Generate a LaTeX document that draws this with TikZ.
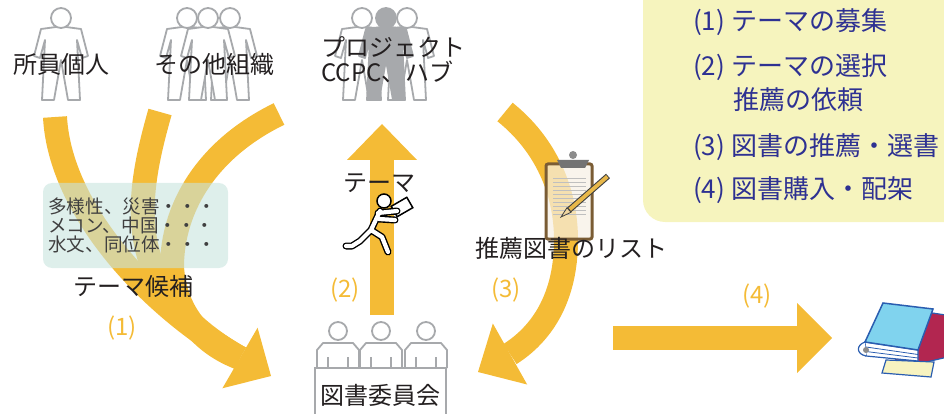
\documentclass[tikz,border=0pt]{standalone}
\usepackage{fontspec}
\setmainfont{Noto Sans CJK JP}
\usetikzlibrary{calc}

\definecolor{bandc}{RGB}{244,187,54}
\definecolor{figgray}{RGB}{167,169,172}
\definecolor{navy}{RGB}{46,49,146}
\definecolor{legendbg}{RGB}{246,244,190}
\definecolor{mint}{RGB}{200,228,222}
\definecolor{ink}{RGB}{35,31,32}
\definecolor{cbbrown}{RGB}{122,92,52}
\definecolor{cbpaper}{RGB}{246,240,228}
\definecolor{pencilc}{RGB}{232,184,74}
\definecolor{woodc}{RGB}{240,214,160}
\definecolor{bookblue}{RGB}{42,93,176}
\definecolor{bookcyan}{RGB}{128,211,238}
\definecolor{bookred}{RGB}{178,38,80}
\definecolor{bookyellow}{RGB}{247,243,192}

% arrow head from base point #1 to tip #2
\newcommand{\bighead}[2]{\fill[bandc] ($(#1)!35pt!90:(#2)$) -- (#2) -- ($(#1)!35pt!-90:(#2)$) -- cycle;}

% standing figure, head centre at (#1,#2)
\newcommand{\staff}[3]{%
  \begin{scope}[shift={(#1,#2)}]
    \filldraw[figgray, line width=1.8pt, fill=#3, line join=round]
      (-5,9) -- (-20,11) -- (-27,38) -- (-21,40) -- (-16,22) -- (-19,82) -- (-7,82)
      -- (0,42) -- (7,82) -- (19,82) -- (16,22) -- (21,40) -- (27,38) -- (20,11) -- (5,9) -- cycle;
    \filldraw[figgray, line width=1.8pt, fill=#3] (0,0) circle (10pt);
  \end{scope}}

% seated member behind the table
\newcommand{\member}[1]{%
  \begin{scope}[shift={(#1,331)}]
    \draw[figgray, line width=1.8pt, fill=white, line join=round]
      (-21,37) -- (-21,19) -- (-15,12) -- (15,12) -- (21,19) -- (21,37);
    \draw[figgray, line width=1.8pt] (-10,26) -- (-10,37) (10,26) -- (10,37);
    \draw[figgray, line width=1.8pt, fill=white] (0,0) circle (9pt);
  \end{scope}}

\begin{document}
\begin{tikzpicture}[x=1pt, y=-1pt,
  lbl/.style={text=ink, font=\fontsize{24}{25}\selectfont, inner sep=0pt},
  num/.style={text=bandc, font=\fontsize{24}{26}\selectfont, inner sep=0pt},
  legend/.style={text=navy, font=\fontsize{26}{28}\selectfont, anchor=west, inner sep=0pt},
  flow/.style={draw=bandc, line width=24pt}]

\useasboundingbox (0,0) rectangle (944,414);
\clip (0,0) rectangle (944,414);

% legend
\fill[legendbg, rounded corners=22pt] (643,-40) rectangle (990,222);
\node[legend] (l1) at (693,22) {(1) テーマの募集};
\node[legend] (l2) at (693,67) {(2) テーマの選択};
\node[legend] (l2b) at (733,100) {推薦の依頼};
\node[legend] (l3) at (693,147) {(3) 図書の推薦・選書};
\node[legend] (l4) at (693,190) {(4) 図書購入・配架};

% people
\staff{61}{18}{white}
\staff{187}{18}{white}
\staff{230}{18}{white}
\staff{208}{18}{white}
\staff{362}{18}{white}
\staff{407}{18}{white}
\staff{386}{18}{figgray}

\node[lbl] (kojin) at (61,64) {所員個人};
\node[lbl] (sonota) at (214,64) {その他組織};
\node[lbl, align=left, anchor=west] (proj) at (321,60) {プロジェクト\\CCPC、ハブ};

% (1) theme collection
\coordinate (a1) at (55,117);
\coordinate (b1) at (160,112);
\coordinate (c1) at (279,114);
\coordinate (m1) at (240,358);
\coordinate (t1) at (271,376);
\draw[flow] (a1) .. controls (60,210) and (150,307) .. (m1);
\draw[flow] (b1) .. controls (135,200) and (120,290) .. (m1);
\draw[flow] (c1) .. controls (205,150) and (172,210) .. (172,267) .. controls (175,315) and (205,345) .. (m1);
\bighead{m1}{t1}

% (2) theme
\coordinate (s2) at (382,315);
\coordinate (m2) at (382,160);
\coordinate (t2) at (382,124);
\draw[flow] (s2) -- (m2);
\bighead{m2}{t2}

% (3) list
\coordinate (s3) at (505,112);
\coordinate (m3) at (510,354);
\coordinate (t3) at (478,372);
\draw[flow] (s3) .. controls (545,144) and (566,190) .. (566,240) .. controls (566,300) and (540,335) .. (m3);
\bighead{m3}{t3}

% (4) purchase
\coordinate (s4) at (613,338);
\coordinate (m4) at (797,338);
\coordinate (t4) at (832,338);
\draw[flow] (s4) -- (m4);
\bighead{m4}{t4}

\node[num] (n1) at (122,328) {(1)};
\node[num] (n2) at (345,290) {(2)};
\node[num] (n3) at (506,290) {(3)};
\node[num] (n4) at (757,296) {(4)};

% candidate themes
\node[fill=mint, fill opacity=0.6, rounded corners=9pt, minimum width=185pt, minimum height=85pt] (kbox) at (135.5,225.5) {};
\node[anchor=west, align=left, text=black!75, font=\fontsize{18.6}{19}\selectfont, inner sep=0pt] (kitems) at (48,225)
  {多様性、災害・・・\\メコン、中国・・・\\水文、同位体・・・};
\node[lbl] (kouho) at (133,286) {テーマ候補};

% runner with the theme
\node[lbl] (theme) at (379,183) {テーマ};
\draw[fill=white, line width=1.5pt, rotate around={30:(402,207)}] (393,201) rectangle (411,213);
\foreach \w/\c in {7/black,4.2/white}
  \draw[\c, line width=\w pt, line join=round, line cap=round]
    (371,230) -- (380,211) (371,230) -- (360,241) -- (352,246) -- (346,246)
    (371,230) -- (382,237) -- (388,252) (378,213) -- (397,211) (379,219) -- (395,220);
\draw[fill=white, line width=1.5pt] (384,201) circle (7pt);

% clipboard
\draw[line width=3pt, draw=cbbrown, fill=cbpaper, fill opacity=0.7, rounded corners=2pt] (546,164) rectangle (592,239);
\foreach \y in {178,182,...,214}
  \draw[black!25, line width=0.6pt] (553,\y) -- (586,\y);
\fill[black!55] (557,160) -- (589,160) -- (585,168) -- (561,168) -- cycle;
\fill[black!45] (573,155) circle (4pt);
\draw[line width=6pt, draw=black!75] (608,176) -- (569,210);
\draw[line width=3.8pt, draw=pencilc] (607.3,176.6) -- (569.7,209.4);
\filldraw[draw=black!75, fill=woodc, line width=0.8pt] (571,212.3) -- (561,217) -- (567,207.7) -- cycle;
\node[lbl, anchor=west] (list) at (475,248) {推薦図書のリスト};

% library committee
\foreach \x in {338,381,426} {\member{\x}}
\node[lbl, draw=figgray, line width=1.8pt, fill=white, minimum width=131pt, minimum height=54pt] (iinkai) at (380.5,395) {図書委員会};

% books
\filldraw[fill=bookred, draw=bookblue, line width=1.2pt] (926,312) -- (952,316) -- (952,356) -- (892,370) -- (896,358) -- cycle;
\filldraw[fill=bookyellow, draw=bookblue, line width=1.2pt] (886,360) -- (934,362) -- (931,377) -- (882,373) -- cycle;
\filldraw[fill=white, draw=bookblue, line width=1.2pt] (865,342) -- (918,350) -- (918,361) -- (866,356) -- cycle;
\draw[bookblue, line width=0.8pt] (866,347) -- (918,354.5) (866,351.5) -- (918,358);
\filldraw[fill=white, draw=bookblue, line width=1.2pt] (865,342) .. controls (856,345) and (856,354) .. (866,356);
\fill[black!45] (866,350) circle (3pt);
\filldraw[fill=bookcyan, draw=bookblue, line width=1.5pt] (883,303) -- (933,309) -- (918,350) -- (865,342) -- cycle;

\end{tikzpicture}
\end{document}
